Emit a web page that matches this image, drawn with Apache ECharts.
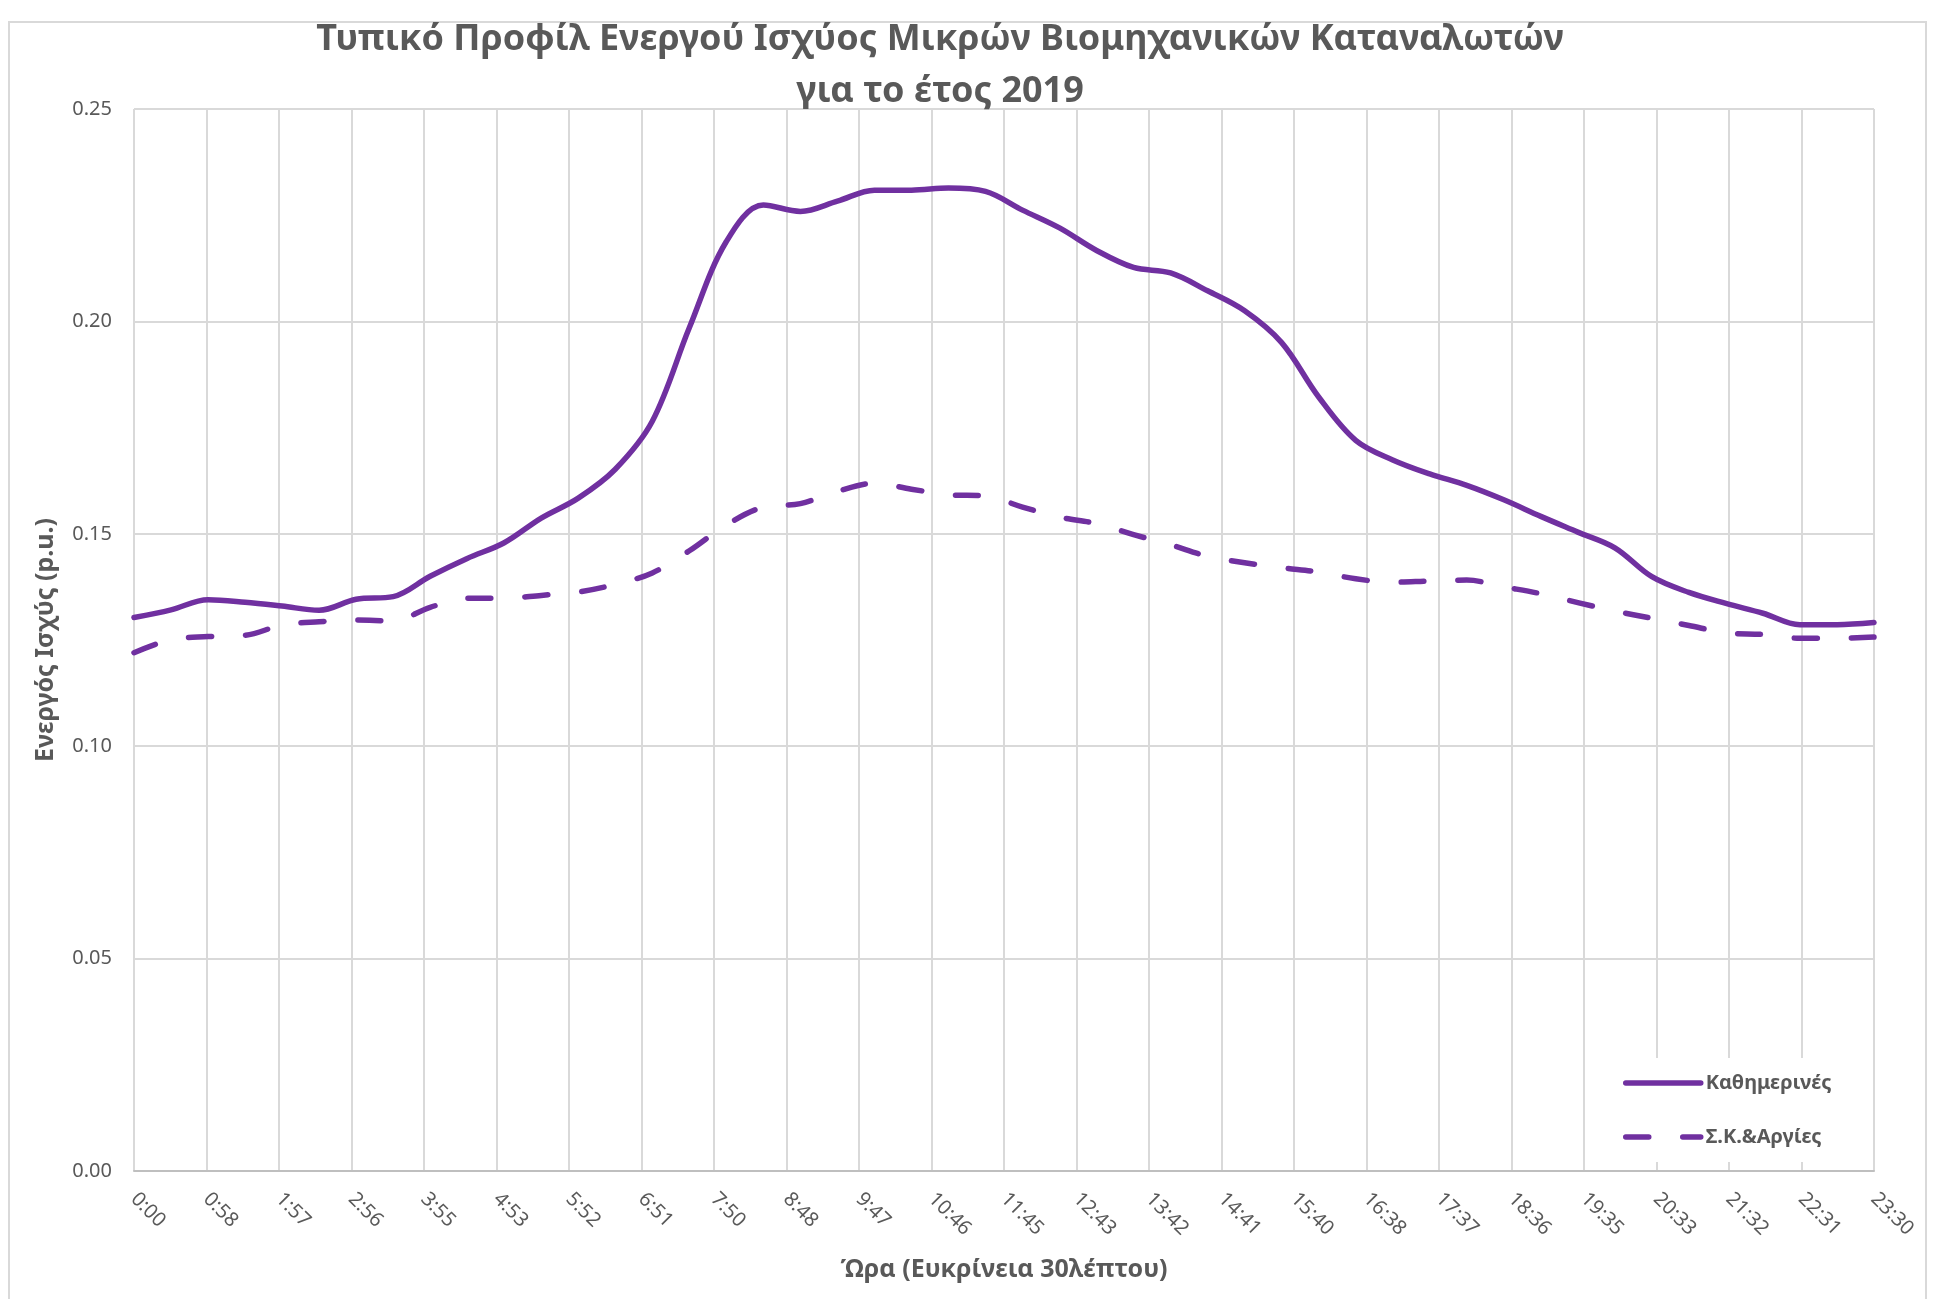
<!DOCTYPE html>
<html>
<head>
<meta charset="utf-8">
<script src="https://cdn.jsdelivr.net/npm/echarts@6/dist/echarts.min.js"></script>
<style>html,body{margin:0;padding:0;background:#fff}#c{width:1941px;height:1299px}</style>
</head>
<body>
<div id="c"></div>
<script>
// Minutes from midnight, 30-minute resolution
const minutes = [0,30,60,90,120,150,180,210,240,270,300,330,360,390,420,450,480,510,540,570,600,630,660,690,720,750,780,810,840,870,900,930,960,990,1020,1050,1080,1110,1140,1170,1200,1230,1260,1290,1320,1350,1380,1410];
const weekdays = [0.1303,0.1321,0.1345,0.1339,0.1330,0.1320,0.1346,0.1352,0.1400,0.1442,0.1479,0.1537,0.1584,0.1652,0.1765,0.1985,0.2188,0.2274,0.2259,0.2283,0.2309,0.2309,0.2314,0.2306,0.2262,0.2220,0.2167,0.2127,0.2114,0.2072,0.2025,0.1950,0.1822,0.1720,0.1674,0.1641,0.1614,0.1580,0.1541,0.1504,0.1467,0.1399,0.1362,0.1336,0.1313,0.1286,0.1286,0.1291];
const weekendsHolidays = [0.1220,0.1251,0.1258,0.1261,0.1285,0.1293,0.1297,0.1295,0.1327,0.1348,0.1348,0.1355,0.1363,0.1381,0.1408,0.1460,0.1521,0.1563,0.1571,0.1600,0.1619,0.1605,0.1592,0.1589,0.1563,0.1539,0.1524,0.1498,0.1474,0.1447,0.1432,0.1420,0.1410,0.1394,0.1386,0.1389,0.1391,0.1375,0.1359,0.1338,0.1318,0.1301,0.1284,0.1267,0.1263,0.1254,0.1254,0.1257];
const seriesNames = ['Καθημερινές', 'Σ.Κ.&Αργίες'];
const titleText = 'Τυπικό Προφίλ Ενεργού Ισχύος Μικρών Βιομηχανικών Καταναλωτών\nγια το έτος 2019';
const xAxisName = 'Ώρα (Ευκρίνεια 30λέπτου)';
const yAxisName = 'Ενεργός Ισχύς (p.u.)';
const xTickStep = 58.75; // 1410 / 24

const FONT = 'Noto Sans';
const GREY = '#595959';
const PURPLE = '#7030a0';

function fmtTime(v) {
  const m = Math.floor(v + 1e-6);
  const h = Math.floor(m / 60);
  const mm = m % 60;
  return h + ':' + (mm < 10 ? '0' : '') + mm;
}

const chart = echarts.init(document.getElementById('c'), null, {renderer: 'canvas'});
chart.setOption({
  backgroundColor: '#ffffff',
  animation: false,
  graphic: [{
    type: 'rect', shape: {x: 9, y: 22, width: 1917, height: 1300},
    style: {fill: 'none', stroke: '#d9d9d9', lineWidth: 2}, silent: true, z: -10
  }],
  title: {
    text: titleText,
    left: 935, top: 9, textAlign: 'center',
    textStyle: {fontFamily: FONT, fontSize: 36, fontWeight: 'bold', color: GREY, lineHeight: 52}
  },
  grid: {left: 134, right: 67, top: 109, bottom: 128},
  legend: {
    orient: 'vertical', left: 1609, top: 1058,
    padding: [13, 36, 13, 14],
    backgroundColor: '#ffffff',
    itemWidth: 75, itemHeight: 14, itemGap: 30,
    data: seriesNames,
    lineStyle: {width: 5.5, cap: 'round'},
    itemStyle: {opacity: 0},
    textStyle: {fontFamily: FONT, fontSize: 20, fontWeight: 'bold', color: GREY, lineHeight: 24}
  },
  xAxis: {
    type: 'value', min: 0, max: 1410, interval: xTickStep,
    name: xAxisName, nameLocation: 'middle', nameGap: 86,
    nameTextStyle: {fontFamily: FONT, fontSize: 25, fontWeight: 'bold', color: GREY},
    axisLine: {show: true, lineStyle: {color: '#bfbfbf', width: 2}},
    axisTick: {show: false},
    splitLine: {show: true, lineStyle: {color: '#d9d9d9', width: 2}},
    axisLabel: {
      rotate: -45, margin: 25, formatter: fmtTime,
      fontFamily: FONT, fontSize: 20, color: GREY,
      showMinLabel: true, showMaxLabel: true
    }
  },
  yAxis: {
    type: 'value', min: 0, max: 0.25, interval: 0.05,
    name: yAxisName, nameLocation: 'middle', nameGap: 76,
    nameTextStyle: {fontFamily: FONT, fontSize: 25, fontWeight: 'bold', color: GREY},
    axisLine: {show: false}, axisTick: {show: false},
    splitLine: {show: true, lineStyle: {color: '#d9d9d9', width: 2}},
    axisLabel: {formatter: v => v.toFixed(2), fontFamily: FONT, fontSize: 20, color: GREY, margin: 22}
  },
  series: [
    {
      name: seriesNames[0], type: 'line', smooth: 0.35, symbol: 'none',
      data: minutes.map((m, i) => [m, weekdays[i]]),
      lineStyle: {color: PURPLE, width: 5.5, cap: 'round', join: 'round'},
      itemStyle: {color: PURPLE}
    },
    {
      name: seriesNames[1], type: 'line', smooth: 0.35, symbol: 'none',
      data: minutes.map((m, i) => [m, weekendsHolidays[i]]),
      lineStyle: {color: PURPLE, width: 5.5, type: [23, 34], cap: 'round', join: 'round'},
      itemStyle: {color: PURPLE}
    }
  ]
});
</script>
</body>
</html>
